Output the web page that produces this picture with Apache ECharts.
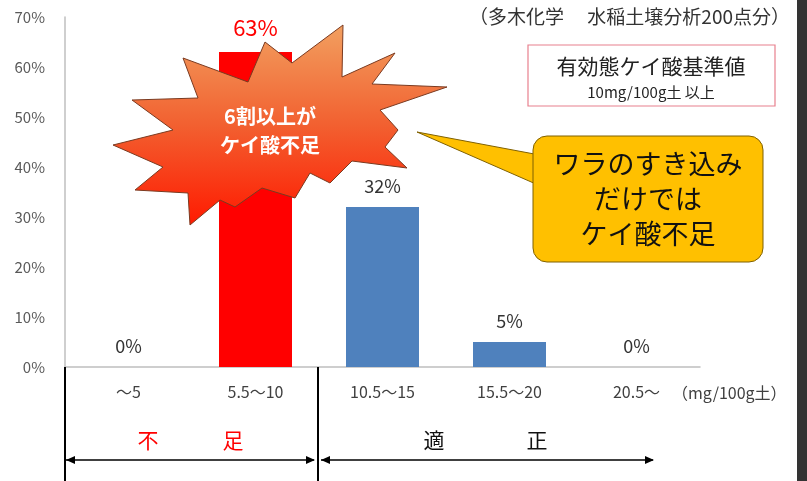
<!DOCTYPE html>
<html><head><meta charset="utf-8">
<script src="https://cdn.jsdelivr.net/npm/echarts@6/dist/echarts.min.js"></script>
<style>html,body{margin:0;padding:0;background:#fff}#c{width:807px;height:481px}</style>
</head><body><div id="c"></div>
<script>
const categories = ['～5', '5.5～10', '10.5～15', '15.5～20', '20.5～'];
const values = [0, 63, 32, 5, 0];
const barColors = ['#4F81BD', '#FF0000', '#4F81BD', '#4F81BD', '#4F81BD'];
const yTicks = [0, 10, 20, 30, 40, 50, 60, 70];
const FONT = '"Noto Sans CJK JP", "Noto Sans", sans-serif';

const chart = echarts.init(document.getElementById('c'));

const burst = [[265,42],[292,63],[343,25],[342,77],[395,53],[372,84],[447,87],[380,110],[398,130],[385,147],[407,168],[352,161],[330,183],[310,173],[295,198],[262,188],[235,207],[220,200],[190,225],[188,193],[135,190],[163,167],[113,145],[173,130],[132,100],[198,98],[183,58],[248,82]];

function arrowHead(x, y, dir) {
  return { type: 'polygon', z: 20, shape: { points: [[x, y], [x - dir*9, y - 4], [x - dir*9, y + 4]] }, style: { fill: '#000' } };
}

const option = {
  animation: false,
  grid: { left: 65, top: 17, width: 635, height: 350 },
  xAxis: {
    type: 'category', data: categories,
    axisLine: { lineStyle: { color: '#BFBFBF', width: 1.5 } },
    axisTick: { show: false },
    axisLabel: { color: '#404040', fontSize: 16, margin: 17, fontFamily: FONT }
  },
  yAxis: {
    type: 'value', min: 0, max: 70, interval: 10,
    axisLine: { show: true, lineStyle: { color: '#BFBFBF', width: 1.5 } },
    splitLine: { show: false },
    axisLabel: { formatter: v => v + '%', color: '#595959', fontSize: 15, margin: 20, fontFamily: FONT }
  },
  series: [{
    type: 'bar', barWidth: 73,
    data: values.map((v, i) => ({
      value: v,
      itemStyle: { color: barColors[i] },
      label: i === 1 ? { color: '#FF0000', fontSize: 22, distance: 13 } : {}
    })),
    label: { show: true, position: 'top', formatter: '{c}%', color: '#333', fontSize: 18, distance: 12, fontFamily: FONT }
  }],
  graphic: [
    { type: 'rect', z: 50, shape: { x: 797, y: 0, width: 10, height: 481 }, style: { fill: '#333333' } },
    { type: 'text', z: 20, style: { text: '（mg/100g土）', x: 672, y: 393, align: 'left', verticalAlign: 'middle', fill: '#404040', font: '16px ' + FONT } },
    { type: 'text', z: 20, style: { text: '（多木化学　 水稲土壌分析200点分）', x: 790, y: 17, align: 'right', verticalAlign: 'middle', fill: '#333', font: '19px ' + FONT } },
    { type: 'rect', z: 20, shape: { x: 528, y: 45, width: 247, height: 61 }, style: { fill: '#fff', stroke: '#E8808E', lineWidth: 1.2 } },
    { type: 'text', z: 21, style: { text: '有効態ケイ酸基準値', x: 651, y: 66, align: 'center', verticalAlign: 'middle', fill: '#222', font: '21px ' + FONT } },
    { type: 'text', z: 21, style: { text: '10mg/100g土 以上', x: 651, y: 92, align: 'center', verticalAlign: 'middle', fill: '#222', font: '15px ' + FONT } },
    // starburst
    { type: 'polygon', z: 30, shape: { points: burst }, style: { stroke: '#7A3A20', lineWidth: 1, fill: new echarts.graphic.LinearGradient(0, 0, 0, 1, [{ offset: 0, color: '#F2A060' }, { offset: 0.5, color: '#F26030' }, { offset: 1, color: '#FF1A00' }]) } },
    { type: 'text', z: 31, style: { text: '6割以上が\nケイ酸不足', x: 270, y: 131, align: 'center', verticalAlign: 'middle', fill: '#fff', font: 'bold 20px ' + FONT, lineHeight: 29 } },
    // callout
    { type: 'polygon', z: 30, shape: { points: [[417, 132], [545, 156], [545, 188]] }, style: { fill: '#FFC000', stroke: '#7F6000', lineWidth: 1 } },
    { type: 'rect', z: 31, shape: { x: 533, y: 136, width: 230, height: 126, r: 14 }, style: { fill: '#FFC000', stroke: '#7F6000', lineWidth: 1 } },
    { type: 'polygon', z: 32, shape: { points: [[536, 157], [548, 157], [548, 187], [536, 186]] }, style: { fill: '#FFC000' } },
    { type: 'text', z: 33, style: { text: 'ワラのすき込み\nだけでは\nケイ酸不足', x: 648, y: 199, align: 'center', verticalAlign: 'middle', fill: '#111', font: '27px ' + FONT, lineHeight: 35 } },
    // bottom brackets
    { type: 'line', z: 20, shape: { x1: 65, y1: 367, x2: 65, y2: 481 }, style: { stroke: '#000', lineWidth: 2 } },
    { type: 'line', z: 20, shape: { x1: 318, y1: 367, x2: 318, y2: 481 }, style: { stroke: '#000', lineWidth: 2 } },
    { type: 'line', z: 20, shape: { x1: 66, y1: 460, x2: 314, y2: 460 }, style: { stroke: '#000', lineWidth: 1.5 } },
    arrowHead(66, 460, -1), arrowHead(315, 460, 1),
    { type: 'line', z: 20, shape: { x1: 321, y1: 460, x2: 653, y2: 460 }, style: { stroke: '#000', lineWidth: 1.5 } },
    arrowHead(321, 460, -1), arrowHead(654, 460, 1),
    { type: 'text', z: 20, style: { text: '不', x: 148, y: 440, align: 'center', verticalAlign: 'middle', fill: '#FF0000', font: '21px ' + FONT } },
    { type: 'text', z: 20, style: { text: '足', x: 233, y: 440, align: 'center', verticalAlign: 'middle', fill: '#FF0000', font: '21px ' + FONT } },
    { type: 'text', z: 20, style: { text: '適', x: 434, y: 440, align: 'center', verticalAlign: 'middle', fill: '#111', font: '21px ' + FONT } },
    { type: 'text', z: 20, style: { text: '正', x: 537, y: 440, align: 'center', verticalAlign: 'middle', fill: '#111', font: '21px ' + FONT } }
  ]
};
chart.setOption(option);
</script></body></html>
